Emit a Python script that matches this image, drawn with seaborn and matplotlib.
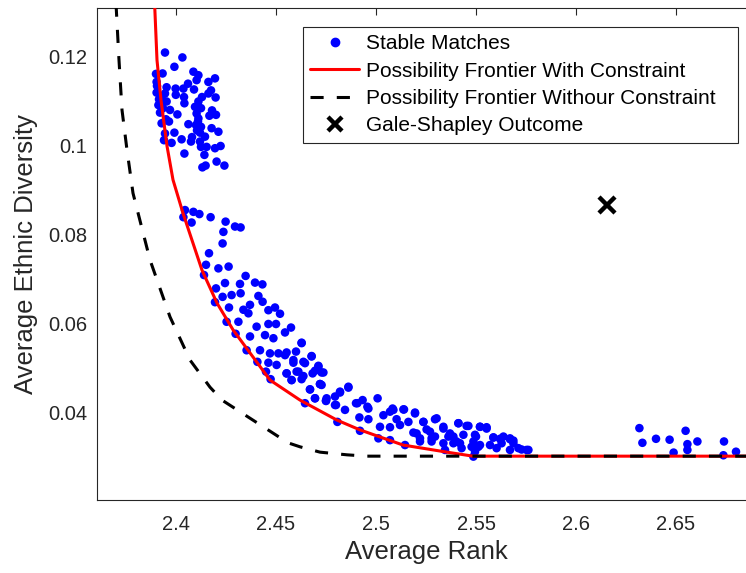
import numpy as np
import pandas as pd
import matplotlib
matplotlib.use("Agg")
import matplotlib.pyplot as plt
import seaborn as sns
from matplotlib.lines import Line2D

# ---------------- data ----------------
stable_x = [
    2.3945, 2.4032, 2.3992, 2.3900, 2.3933, 2.4087, 2.4112, 2.4103, 2.4162, 2.4195,
    2.3903, 2.3953, 2.3998, 2.4037, 2.4090, 2.3903, 2.3945, 2.3999, 2.4162, 2.4198,
    2.3933, 2.3953, 2.4042, 2.4112, 2.4095, 2.3912, 2.3970, 2.4007, 2.4103, 2.4112,
    2.4167, 2.4200, 2.3928, 2.3965, 2.4062, 2.4100, 2.4125, 2.4178, 2.4212, 2.3945,
    2.3992, 2.4120, 2.4145, 2.3940, 2.3978, 2.4028, 2.4075, 2.4120, 2.4125, 2.4153,
    2.4195, 2.4223, 2.4042, 2.4142, 2.4203, 2.4242, 2.4132, 2.4148,
    2.3905, 2.3915, 2.3920, 2.3935, 2.3950, 2.4040, 2.4060, 2.4080, 2.4105, 2.4110,
    2.4125, 2.4130, 2.4175, 2.4180,
    2.4045, 2.4037, 2.4087, 2.4117, 2.4078, 2.4173, 2.4248, 2.4295, 2.4323, 2.4237,
    2.4233, 2.4165, 2.4150, 2.4140, 2.4212, 2.4263, 2.4348, 2.4200, 2.4245, 2.4320,
    2.4395, 2.4432, 2.4278, 2.4323, 2.4233, 2.4195, 2.4265, 2.4337, 2.4370, 2.4412,
    2.4433, 2.4462, 2.4495, 2.4520, 2.4362, 2.4253, 2.4312, 2.4403, 2.4462, 2.4500,
    2.4575, 2.4298, 2.4370, 2.4445, 2.4487, 2.4545, 2.4628, 2.4353, 2.4420, 2.4470,
    2.4512, 2.4553, 2.4600, 2.4678, 2.4407, 2.4462, 2.4503, 2.4587, 2.4637, 2.4712,
    2.4450, 2.4553, 2.4603, 2.4683, 2.4737, 2.4473, 2.4578, 2.4628, 2.4720, 2.4670,
    2.4820, 2.4862, 2.4695, 2.4753, 2.4795,
    2.4628, 2.4545, 2.4587, 2.4645, 2.4678, 2.4553, 2.4612, 2.4637, 2.4578, 2.4695,
    2.4728, 2.4712, 2.4720, 2.4670, 2.4645, 2.4695, 2.4750, 2.4795, 2.4820, 2.4862,
    2.4845, 2.4807, 2.4900, 2.4933, 2.4957, 2.4917, 2.4962, 2.4920, 2.5008, 2.5037,
    2.5070, 2.5020, 2.5083, 2.5103, 2.5137, 2.5195, 2.5162, 2.5120, 2.5070, 2.5012,
    2.5070, 2.5145, 2.5187, 2.5237, 2.5295, 2.5253, 2.5220, 2.5278, 2.5337, 2.5362,
    2.5412, 2.5453, 2.5387, 2.5420, 2.5345, 2.5428, 2.5478, 2.5520, 2.5553, 2.5500,
    2.5587, 2.5620, 2.5670, 2.5687, 2.5520, 2.5603, 2.5670, 2.5712, 2.5753, 2.5487,
    2.5195, 2.5237, 2.5303, 2.5337, 2.5412, 2.5462, 2.5520, 2.5553, 2.5203, 2.5270,
    2.5370, 2.5437, 2.5495, 2.5220, 2.5278, 2.5337, 2.5403, 2.5487, 2.5512, 2.5587,
    2.5637, 2.5670, 2.5570, 2.5628, 2.5687, 2.5728, 2.5762, 2.5495, 2.5387, 2.5295,
    2.4728, 2.4750, 2.4800, 2.4907, 2.4962, 2.5087, 2.5140,
    2.6317, 2.6332, 2.6400, 2.6468, 2.6548, 2.6557, 2.6557, 2.6607, 2.6488, 2.6740,
    2.6737, 2.6800,
]
stable_y = [
    0.1210, 0.1199, 0.1178, 0.1162, 0.1163, 0.1167, 0.1159, 0.1148, 0.1144, 0.1152,
    0.1144, 0.1132, 0.1129, 0.1129, 0.1127, 0.1120, 0.1118, 0.1115, 0.1118, 0.1109,
    0.1103, 0.1100, 0.1096, 0.1100, 0.1088, 0.1092, 0.1081, 0.1071, 0.1073, 0.1062,
    0.1068, 0.1070, 0.1051, 0.1055, 0.1049, 0.1047, 0.1043, 0.1040, 0.1032, 0.1028,
    0.1030, 0.1030, 0.1021, 0.1013, 0.1007, 0.1015, 0.1010, 0.1010, 0.0998, 0.0998,
    0.0995, 0.1000, 0.0983, 0.0980, 0.0965, 0.0956, 0.0952, 0.0956,
    0.1135, 0.1105, 0.1075, 0.1085, 0.1060, 0.1110, 0.1140, 0.1020, 0.1035, 0.1055,
    0.1085, 0.1110, 0.1125, 0.1080,
    0.0856, 0.0840, 0.0852, 0.0847, 0.0828, 0.0840, 0.0830, 0.0819, 0.0817, 0.0807,
    0.0781, 0.0759, 0.0733, 0.0710, 0.0725, 0.0729, 0.0708, 0.0680, 0.0692, 0.0690,
    0.0693, 0.0689, 0.0665, 0.0669, 0.0661, 0.0649, 0.0637, 0.0632, 0.0643, 0.0663,
    0.0650, 0.0631, 0.0637, 0.0623, 0.0624, 0.0605, 0.0605, 0.0594, 0.0600, 0.0600,
    0.0592, 0.0578, 0.0572, 0.0575, 0.0568, 0.0581, 0.0557, 0.0541, 0.0541, 0.0534,
    0.0534, 0.0536, 0.0538, 0.0528, 0.0515, 0.0513, 0.0508, 0.0513, 0.0515, 0.0506,
    0.0493, 0.0489, 0.0493, 0.0489, 0.0491, 0.0476, 0.0474, 0.0476, 0.0465, 0.0453,
    0.0448, 0.0459, 0.0433, 0.0433, 0.0437,
    0.0558, 0.0530, 0.0519, 0.0512, 0.0527, 0.0489, 0.0493, 0.0483, 0.0474, 0.0495,
    0.0491, 0.0504, 0.0465, 0.0453, 0.0422, 0.0433, 0.0427, 0.0418, 0.0446, 0.0457,
    0.0407, 0.0380, 0.0422, 0.0429, 0.0414, 0.0390, 0.0386, 0.0360, 0.0433, 0.0395,
    0.0403, 0.0369, 0.0410, 0.0386, 0.0408, 0.0401, 0.0380, 0.0373, 0.0368, 0.0343,
    0.0339, 0.0328, 0.0356, 0.0380, 0.0386, 0.0363, 0.0343, 0.0343, 0.0365, 0.0347,
    0.0377, 0.0371, 0.0347, 0.0332, 0.0317, 0.0321, 0.0324, 0.0369, 0.0368, 0.0347,
    0.0345, 0.0342, 0.0341, 0.0338, 0.0328, 0.0321, 0.0317, 0.0321, 0.0317, 0.0302,
    0.0399, 0.0380, 0.0388, 0.0369, 0.0377, 0.0371, 0.0369, 0.0365, 0.0354, 0.0358,
    0.0354, 0.0351, 0.0351, 0.0336, 0.0336, 0.0332, 0.0336, 0.0336, 0.0324, 0.0345,
    0.0347, 0.0343, 0.0328, 0.0332, 0.0332, 0.0318, 0.0317, 0.0313, 0.0332, 0.0347,
    0.0463, 0.0428, 0.0418, 0.0422, 0.0410, 0.0407, 0.0408,
    0.0366, 0.0333, 0.0342, 0.0340, 0.0360, 0.0330, 0.0317, 0.0336, 0.0311, 0.0336,
    0.0305, 0.0313,
]

frontier_con_x = [2.3893, 2.3905, 2.3925, 2.3955, 2.3985, 2.4035, 2.4130, 2.4205, 2.4285,
                  2.4370, 2.4470, 2.4620, 2.4805, 2.4920, 2.5135, 2.5355, 2.5485, 2.6950]
frontier_con_y = [0.1320, 0.1193, 0.1103, 0.1000, 0.0924, 0.0849, 0.0721, 0.0647, 0.0587,
                  0.0535, 0.0474, 0.0429, 0.0384, 0.0362, 0.0328, 0.0312, 0.0303, 0.0303]

frontier_free_x = [2.3700, 2.3715, 2.3730, 2.3755, 2.3785, 2.3870, 2.3970, 2.4070, 2.4170,
                   2.4230, 2.4560, 2.4620, 2.4720, 2.4855, 2.4955, 2.6950]
frontier_free_y = [0.1320, 0.1193, 0.1081, 0.0991, 0.0894, 0.0744, 0.0616, 0.0519, 0.0458,
                   0.0429, 0.0333, 0.0324, 0.0312, 0.0306, 0.0303, 0.0303]

gs_x = [2.6155]
gs_y = [0.0867]

x_ticks = [2.4, 2.45, 2.5, 2.55, 2.6, 2.65]
x_tick_labels = ["2.4", "2.45", "2.5", "2.55", "2.6", "2.65"]
y_ticks = [0.04, 0.06, 0.08, 0.1, 0.12]
y_tick_labels = ["0.04", "0.06", "0.08", "0.1", "0.12"]

# ---------------- plot ----------------
sns.set_theme(style="white")
plt.rcParams['font.family'] = ['Liberation Sans', 'DejaVu Sans']

W, H = 746, 573
AX_W = 658
fig = plt.figure(figsize=(W / 100, H / 100), dpi=100)
ax = fig.add_axes([97 / W, 1 - 500 / H, AX_W / W, 492 / H])

axcol = (0.15, 0.15, 0.15)

df_pts = pd.DataFrame({"x": stable_x, "y": stable_y})
df_con = pd.DataFrame({"x": frontier_con_x, "y": frontier_con_y})
df_free = pd.DataFrame({"x": frontier_free_x, "y": frontier_free_y})

sns.scatterplot(data=df_pts, x="x", y="y", ax=ax, color=(0, 0, 1), s=38,
                linewidth=0, edgecolor="none", zorder=2, legend=False)
sns.lineplot(data=df_con, x="x", y="y", ax=ax, color=(1, 0, 0), linewidth=2.2,
             sort=False, estimator=None, zorder=3, legend=False)
sns.lineplot(data=df_free, x="x", y="y", ax=ax, color="black", linewidth=2.2,
             sort=False, estimator=None, zorder=4, legend=False)
ax.lines[-1].set_dashes((4.3, 4.3))
ax.plot(gs_x, gs_y, linestyle="none", marker="x", markersize=11,
        markeredgewidth=3.2, color="black", zorder=5)

ax.set_xlim(2.3605, 2.3605 + AX_W / 2000)
ax.set_ylim(0.13101 - 492 / 4450, 0.13101)
ax.set_xticks(x_ticks)
ax.set_xticklabels(x_tick_labels)
ax.set_yticks(y_ticks)
ax.set_yticklabels(y_tick_labels)

ax.tick_params(direction="in", length=5, width=0.8, colors=axcol,
               labelsize=14.5, top=True, right=True, labelcolor=axcol)
ax.tick_params(axis="x", pad=11)
ax.tick_params(axis="y", pad=7)
for sp in ax.spines.values():
    sp.set_color(axcol)
    sp.set_linewidth(0.8)

ax.set_xlabel("Average Rank", fontsize=18.5, color=axcol, labelpad=4)
ax.set_ylabel("Average Ethnic Diversity", fontsize=18.5, color=axcol, labelpad=7)

handles = [
    Line2D([], [], linestyle="none", marker="o", markersize=6, color=(0, 0, 1)),
    Line2D([], [], color=(1, 0, 0), linewidth=2.2),
    Line2D([], [], color="black", linewidth=2.2, dashes=(4.3, 4.3)),
    Line2D([], [], linestyle="none", marker="x", markersize=10, markeredgewidth=3.2,
           color="black"),
]
labels = ["Stable Matches", "Possibility Frontier With Constraint",
          "Possibility Frontier Withour Constraint", "Gale-Shapley Outcome"]
leg = ax.legend(handles, labels, loc="upper left", mode="expand",
                bbox_to_anchor=(303 / W, 1 - 140 / H, 435 / W, 113 / H),
                bbox_transform=fig.transFigure,
                fontsize=15, frameon=True, fancybox=False, framealpha=1,
                edgecolor=axcol, borderpad=0.35, labelspacing=0.4,
                handlelength=2.35, handletextpad=0.3, borderaxespad=0)
leg.get_frame().set_linewidth(0.8)
for t in leg.get_texts():
    t.set_color("black")

fig.savefig("out.png", dpi=100)
